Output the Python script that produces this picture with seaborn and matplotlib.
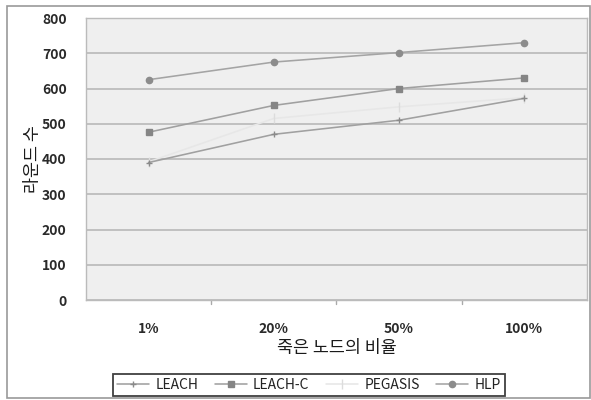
import matplotlib
matplotlib.use("Agg")
import matplotlib.pyplot as plt
import seaborn as sns
import pandas as pd
from matplotlib.patches import Rectangle

categories = ["1%", "20%", "50%", "100%"]
leach = [390, 470, 510, 572]
leach_c = [476, 552, 600, 630]
pegasis = [392, 515, 548, 574]
hlp = [625, 675, 702, 730]
y_ticks = [0, 100, 200, 300, 400, 500, 600, 700, 800]

series = {
    "LEACH": leach,
    "LEACH-C": leach_c,
    "PEGASIS": pegasis,
    "HLP": hlp,
}
styles = {
    "LEACH": dict(color="#a0a0a0", marker="+", markersize=5, mec="#8a8a8a", mew=1.0),
    "LEACH-C": dict(color="#a0a0a0", marker="s", markersize=4.5, mec="#858585", mfc="#858585"),
    "PEGASIS": dict(color="#e7e7e7", marker="|", markersize=7, mec="#dcdcdc", mew=1.0),
    "HLP": dict(color="#a4a4a4", marker="o", markersize=4.5, mec="#8c8c8c", mfc="#8c8c8c"),
}

sns.set_style("white")
plt.rcParams["font.family"] = ["Noto Sans CJK KR", "DejaVu Sans"]

fig = plt.figure(figsize=(5.91, 4.0), dpi=100)
ax = fig.add_axes([0.1455, 0.25, 0.8475, 0.705])

df = pd.DataFrame(series, index=categories).reset_index(names="ratio")
for name in ["PEGASIS", "LEACH", "LEACH-C", "HLP"]:
    st = styles[name]
    sns.lineplot(data=df, x="ratio", y=name, ax=ax, label=name,
                 color=st["color"], linewidth=1.15, marker=st["marker"],
                 markersize=st["markersize"], markeredgecolor=st["mec"],
                 markerfacecolor=st.get("mfc", st["mec"]),
                 markeredgewidth=st.get("mew", 1.0), sort=False)

ax.set_facecolor("#efefef")
ax.set_xlim(-0.5, 3.5)
ax.set_ylim(0, 800)
ax.set_yticks(y_ticks)
ax.set_yticklabels([str(v) for v in y_ticks], fontsize=10, fontweight="bold", color="#2a2a2a")
ax.set_xticks(range(len(categories)))
ax.set_xticklabels(categories, fontsize=10, fontweight="bold", color="#2a2a2a")
ax.tick_params(axis="x", length=0, pad=16)
ax.tick_params(axis="y", length=0, pad=14)
for bx in [0.5, 1.5, 2.5]:
    ax.plot([bx, bx], [0, -10], color="#aaaaaa", lw=1, clip_on=False)
ax.yaxis.grid(True, color="#b8b8b8", linewidth=1.2)
ax.set_axisbelow(True)
for side in ["top", "right", "left", "bottom"]:
    ax.spines[side].set_color("#bbbbbb")
    ax.spines[side].set_linewidth(1.0)

ax.set_xlabel("죽은 노드의 비율", fontsize=12.5, fontweight="medium", color="#1a1a1a", labelpad=2)
ax.set_ylabel("라운드 수", fontsize=12.5, fontweight="medium", color="#1a1a1a")
ax.yaxis.set_label_coords(-0.088, 0.5)

handles, labels = ax.get_legend_handles_labels()
order = [labels.index(n) for n in ["LEACH", "LEACH-C", "PEGASIS", "HLP"]]
leg = ax.legend([handles[i] for i in order], [labels[i] for i in order],
                loc="upper left", bbox_to_anchor=(106 / 591, 33 / 400),
                bbox_transform=fig.transFigure, ncol=4, frameon=True,
                fancybox=False, edgecolor="#111111", fontsize=10,
                handlelength=2.3, columnspacing=1.2, handletextpad=0.45,
                borderpad=0.3)
leg.get_frame().set_linewidth(1.3)
for t in leg.get_texts():
    t.set_color("#222222")

fig.patches.append(Rectangle((7 / 591, 2 / 400), 583 / 591, 392 / 400,
                             transform=fig.transFigure, fill=False,
                             edgecolor="#999999", linewidth=1.2))

fig.savefig("out.png", dpi=100, facecolor="white")
